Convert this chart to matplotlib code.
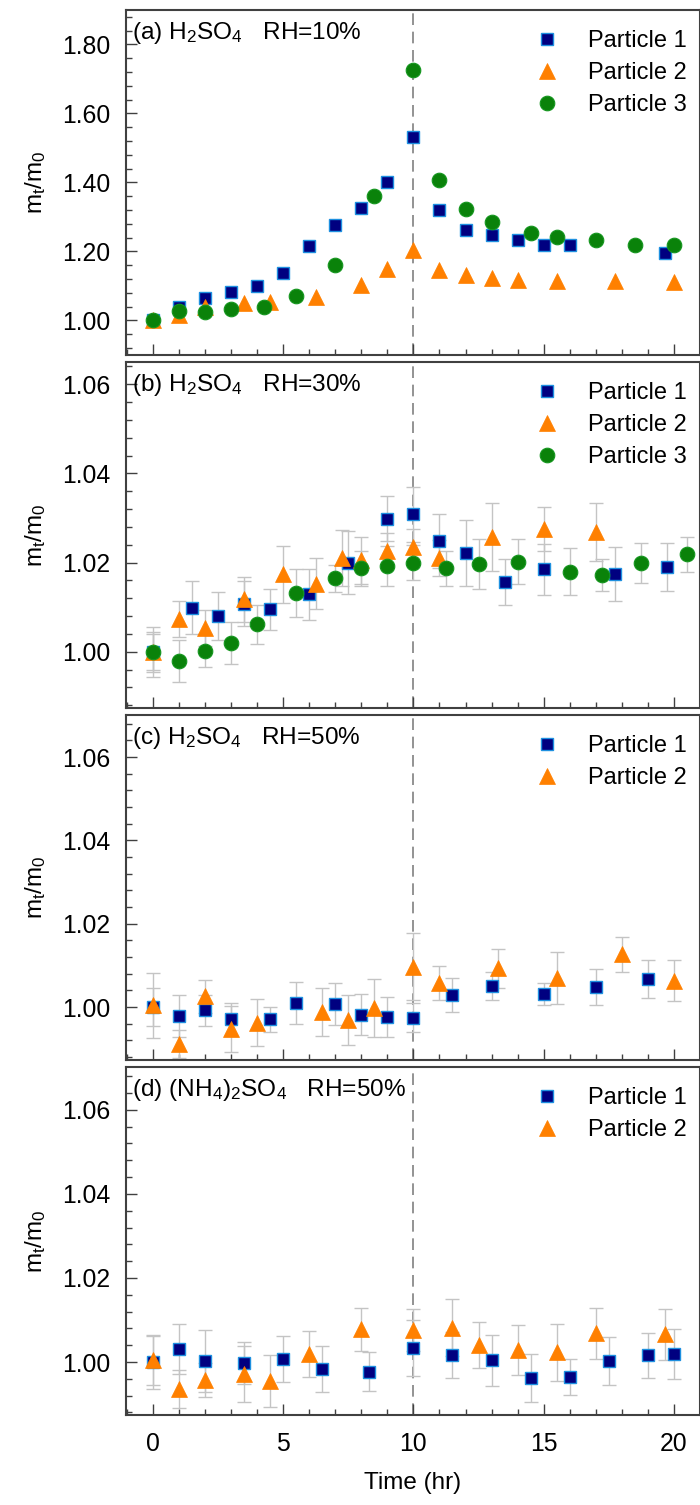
import matplotlib
matplotlib.use("Agg")
import matplotlib.pyplot as plt
from matplotlib.ticker import MultipleLocator, FormatStrFormatter
import numpy as np

plt.rcParams['font.family'] = ['Liberation Sans', 'DejaVu Sans']
plt.rcParams['mathtext.fontset'] = 'custom'
plt.rcParams['mathtext.rm'] = 'Liberation Sans'
plt.rcParams['mathtext.it'] = 'Liberation Sans'

# ---------------- data ----------------
# Panel (a) H2SO4 RH=10%
a_t1 = [0, 1, 2, 3, 4, 5, 6, 7, 8, 9, 10, 11, 12, 13, 14, 15, 16, 19.67]
a_v1 = [1.000, 1.040, 1.065, 1.082, 1.101, 1.138, 1.217, 1.277, 1.325, 1.402, 1.532,
        1.319, 1.261, 1.248, 1.234, 1.219, 1.218, 1.197]
a_t2 = [0, 1, 2, 3.5, 4.5, 6.25, 8, 9, 10, 11, 12, 13, 14, 15.5, 17.75, 20]
a_v2 = [1.000, 1.015, 1.040, 1.050, 1.055, 1.068, 1.104, 1.149, 1.203, 1.145, 1.133,
        1.123, 1.116, 1.114, 1.114, 1.111]
a_t3 = [0, 1, 2, 3, 4.25, 5.5, 7, 8.5, 10, 11, 12, 13, 14.5, 15.5, 17, 18.5, 20]
a_v3 = [1.000, 1.027, 1.025, 1.032, 1.039, 1.072, 1.161, 1.362, 1.727, 1.407, 1.322,
        1.286, 1.253, 1.243, 1.232, 1.219, 1.220]

# Panel (b) H2SO4 RH=30%
b_t1 = [0, 1.5, 2.5, 3.5, 4.5, 6, 7.5, 9, 10, 11, 12, 13.5, 15, 17.75, 19.75]
b_v1 = [1.000, 1.0099, 1.0080, 1.0108, 1.0095, 1.0129, 1.0200, 1.0299, 1.0308, 1.0248,
        1.0221, 1.0157, 1.0185, 1.0174, 1.0190]
b_e1 = [0.0056, 0.0060, 0.0054, 0.0050, 0.0045, 0.0057, 0.0070, 0.0050, 0.0062, 0.0060,
        0.0074, 0.0052, 0.0057, 0.0060, 0.0054]
b_t2 = [0, 1, 2, 3.5, 5, 6.25, 7.25, 8, 9, 10, 11, 13, 15, 17]
b_v2 = [1.000, 1.0073, 1.0054, 1.0118, 1.0174, 1.0153, 1.0210, 1.0205, 1.0227, 1.0235,
        1.0210, 1.0257, 1.0275, 1.0268]
b_e2 = [0.0045, 0.0040, 0.0040, 0.0050, 0.0064, 0.0058, 0.0063, 0.0052, 0.0040, 0.0040,
        0.0040, 0.0076, 0.0050, 0.0065]
b_t3 = [0, 1, 2, 3, 4, 5.5, 7, 8, 9, 10, 11.25, 12.5, 14, 16, 17.25, 18.75, 20.5]
b_v3 = [1.000, 0.9979, 1.0002, 1.0020, 1.0062, 1.0131, 1.0165, 1.0187, 1.0192, 1.0200,
        1.0187, 1.0197, 1.0202, 1.0180, 1.0172, 1.0199, 1.0219]
b_e3 = [0.0040, 0.0047, 0.0037, 0.0047, 0.0044, 0.0054, 0.0030, 0.0040, 0.0045, 0.0040,
        0.0040, 0.0056, 0.0050, 0.0053, 0.0036, 0.0044, 0.0039]

# Panel (c) H2SO4 RH=50%
c_t1 = [0, 1, 2, 3, 4.5, 5.5, 7, 8, 9, 10, 11.5, 13, 15, 17, 19]
c_v1 = [1.000, 0.9978, 0.9992, 0.9971, 0.9971, 1.0010, 1.0008, 0.9982, 0.9977, 0.9975,
        1.0029, 1.0051, 1.0031, 1.0048, 1.0067]
c_e1 = [0.0046, 0.0050, 0.0038, 0.0040, 0.0030, 0.0050, 0.0050, 0.0050, 0.0048, 0.0035,
        0.0040, 0.0033, 0.0027, 0.0043, 0.0046]
c_t2 = [0, 1, 2, 3, 4, 6.5, 7.5, 8.5, 10, 11, 13.25, 15.5, 18, 20]
c_v2 = [1.0004, 0.9911, 1.0026, 0.9947, 0.9963, 0.9988, 0.9969, 0.9998, 1.0097, 1.0057,
        1.0093, 1.0070, 1.0127, 1.0063]
c_e2 = [0.0077, 0.0034, 0.0040, 0.0055, 0.0056, 0.0058, 0.0060, 0.0069, 0.0081, 0.0041,
        0.0046, 0.0063, 0.0042, 0.0049]

# Panel (d) (NH4)2SO4 RH=50%
d_t1 = [0, 1, 2, 3.5, 5, 6.5, 8.3, 10, 11.5, 13, 14.5, 16, 17.5, 19, 20]
d_v1 = [1.000, 1.0031, 1.0002, 0.9997, 1.0007, 0.9984, 0.9977, 1.0033, 1.0016, 1.0004,
        0.9962, 0.9965, 1.0002, 1.0016, 1.0019]
d_e1 = [0.0065, 0.0059, 0.0074, 0.0050, 0.0054, 0.0055, 0.0046, 0.0066, 0.0055, 0.0061,
        0.0057, 0.0043, 0.0057, 0.0053, 0.0059]
d_t2 = [0, 1, 2, 3.5, 4.5, 6, 8, 10, 11.5, 12.5, 14, 15.5, 17, 19.67]
d_v2 = [1.0004, 0.9935, 0.9957, 0.9972, 0.9955, 1.0019, 1.0078, 1.0076, 1.0082, 1.0041,
        1.0029, 1.0023, 1.0068, 1.0066]
d_e2 = [0.0058, 0.0045, 0.0040, 0.0067, 0.0061, 0.0054, 0.0051, 0.0050, 0.0067, 0.0055,
        0.0059, 0.0068, 0.0060, 0.0060]

titles = [r"(a) H$_2$SO$_4$   RH=10%", r"(b) H$_2$SO$_4$   RH=30%",
          r"(c) H$_2$SO$_4$   RH=50%", r"(d) (NH$_4$)$_2$SO$_4$   RH=50%"]
series_labels = ["Particle 1", "Particle 2", "Particle 3"]

panels = [
    [(a_t1, a_v1, None), (a_t2, a_v2, None), (a_t3, a_v3, None)],
    [(b_t1, b_v1, b_e1), (b_t2, b_v2, b_e2), (b_t3, b_v3, b_e3)],
    [(c_t1, c_v1, c_e1), (c_t2, c_v2, c_e2)],
    [(d_t1, d_v1, d_e1), (d_t2, d_v2, d_e2)],
]
ylims = [(0.90, 1.90), (0.9874, 1.065), (0.9873, 1.0701), (0.9874, 1.0702)]
ymajor = [0.20, 0.02, 0.02, 0.02]
yminor = [0.04, 0.004, 0.004, 0.004]

# ---------------- styling ----------------
styles = [
    dict(marker='s', ms=8.5, mfc='#000080', mec='#1e90e0', mew=1.0),
    dict(marker='^', ms=11, mfc='#ff8000', mec='#ff8000', mew=0.5),
    dict(marker='o', ms=10.5, mfc='#0a820a', mec='#14961e', mew=0.8),
]

fig = plt.figure(figsize=(7.0, 15.05), dpi=100)
left, width = 125.5 / 700, 1 - 125.5 / 700
boxes = [(10, 355), (362, 708), (715, 1060), (1067, 1415)]
FS_TICK = 17.8
FS_TITLE = 17.6
FS_LEG = 17
FS_LAB = 17.5
spine_col = '#404040'

for i, (top, bot) in enumerate(boxes):
    ax = fig.add_axes([left, 1 - bot / 1505, width, (bot - top) / 1505])
    ax.set_xlim(-1.05, 21.0)
    ax.set_ylim(*ylims[i])
    ax.axvline(10, color='#808080', lw=1.2, ls=(0, (7, 4)), zorder=1)
    # error bars first
    for j, (t, v, e) in enumerate(panels[i]):
        if e is not None:
            ax.errorbar(t, v, yerr=e, fmt='none', ecolor='#c4c4c4', elinewidth=1.0,
                        capsize=5, capthick=1.0, zorder=2)
    for j, (t, v, e) in enumerate(panels[i]):
        ax.plot(t, v, ls='none', label=series_labels[j], zorder=3 + j, **styles[j])
    ax.xaxis.set_major_locator(MultipleLocator(5))
    ax.xaxis.set_minor_locator(MultipleLocator(1))
    ax.yaxis.set_major_locator(MultipleLocator(ymajor[i]))
    ax.yaxis.set_minor_locator(MultipleLocator(yminor[i]))
    ax.yaxis.set_major_formatter(FormatStrFormatter('%.2f'))
    ax.tick_params(axis='both', which='major', direction='in', length=8, width=1.0,
                   color=spine_col, labelsize=FS_TICK, pad=11)
    ax.tick_params(axis='both', which='minor', direction='in', length=4, width=1.0,
                   color=spine_col)
    ax.tick_params(axis='x', which='major', pad=12)
    if i < 3:
        ax.tick_params(axis='x', labelbottom=False)
    for s in ax.spines.values():
        s.set_color(spine_col)
        s.set_linewidth(1.5)
    ax.text(0.012, 0.972, titles[i], transform=ax.transAxes, ha='left', va='top',
            fontsize=FS_TITLE)
    ax.set_ylabel(r"m$_t$/m$_0$", fontsize=FS_LAB, labelpad=10)
    ax.legend(loc='upper right', frameon=False, fontsize=FS_LEG, handletextpad=0.95,
              labelspacing=0.42, borderaxespad=0.45, handlelength=1.6,
              bbox_to_anchor=(1.012, 1.0))
    if i == 3:
        ax.set_xlabel("Time (hr)", fontsize=FS_LAB, labelpad=12)

fig.savefig("out.png", dpi=100)
